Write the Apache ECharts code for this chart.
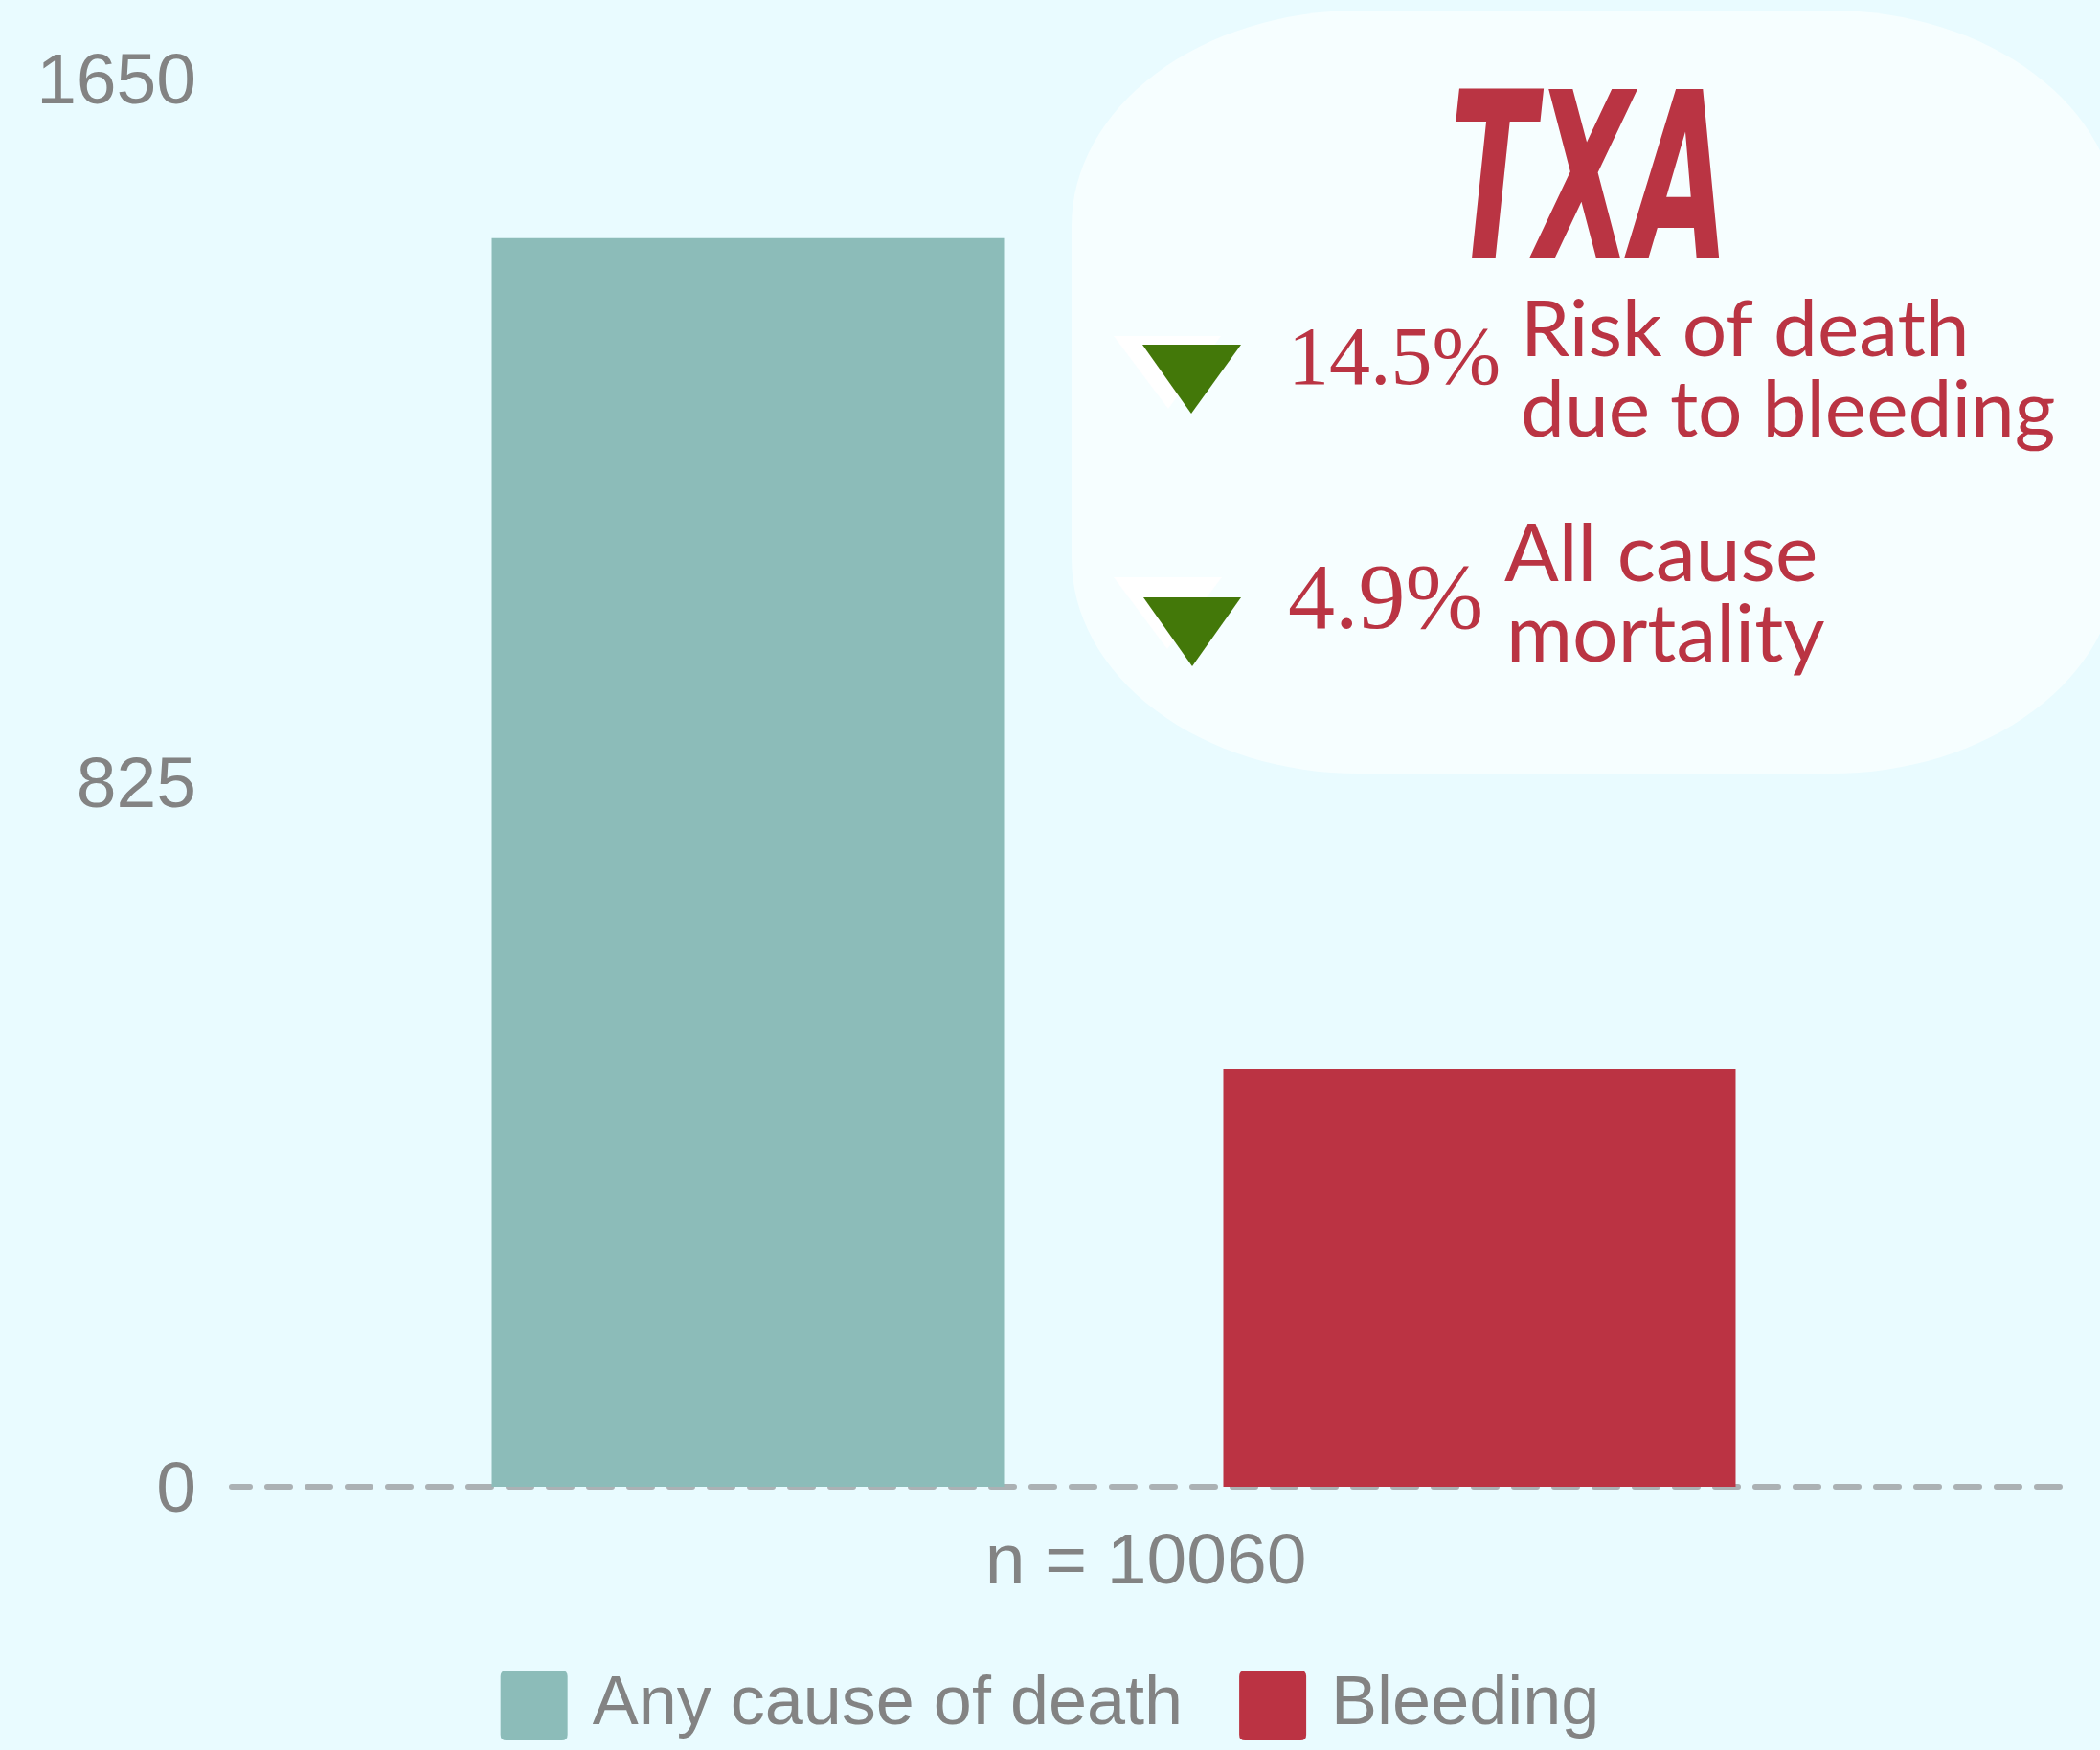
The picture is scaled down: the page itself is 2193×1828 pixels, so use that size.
<!DOCTYPE html>
<html><head><meta charset="utf-8">
<script src="https://cdn.jsdelivr.net/npm/echarts@6/dist/echarts.min.js"></script>
<style>html,body{margin:0;padding:0;background:#e9fbff}#c{width:2193px;height:1828px}</style>
</head><body><div id="c"></div>
<script>
// ---- data ----
const categories = ['n = 10060'];
const seriesNames = ['Any cause of death', 'Bleeding'];
const anyCauseDeaths = [1463];
const bleedingDeaths = [489];
const yMin = 0, yMax = 1650, yInterval = 825;
const headline = 'TXA';
const pctLabels = ['14.5%', '4.9%'];
const rowLabels = [['Risk of death', 'due to bleeding'], ['All cause', 'mortality']];

// ---- styles ----
const TEAL = '#8cbcb9', RED = '#bb3343', GREEN = '#437809', GRAY = '#838383', TXTRED = '#ba3443';

const chart = echarts.init(document.getElementById('c'), null, {renderer: 'canvas'});

const legendIcon = 'path://M6,0 H64 Q70,0 70,6 V67 Q70,73 64,73 H6 Q0,73 0,67 V6 Q0,0 6,0 Z';

const option = {
  backgroundColor: '#e9fbff',
  animation: false,
  grid: [
    {left: 242, right: 42, top: 82, bottom: 275},
    {left: 242, right: 109, top: 82, bottom: 275}
  ],
  xAxis: [
    {type: 'category', gridIndex: 0, data: categories, offset: 3,
     axisLine: {show: true, lineStyle: {color: '#abb1b4', width: 6, type: [24, 18], dashOffset: 5}},
     axisTick: {show: false},
     axisLabel: {color: GRAY, fontSize: 75, fontFamily: 'Liberation Sans, Arial, sans-serif', margin: 40}},
    {type: 'category', gridIndex: 1, data: categories, show: false}
  ],
  yAxis: [
    {type: 'value', gridIndex: 0, min: yMin, max: yMax, interval: yInterval,
     axisLine: {show: false}, axisTick: {show: false}, splitLine: {show: false},
     axisLabel: {color: GRAY, fontSize: 75, fontFamily: 'Liberation Sans, Arial, sans-serif', margin: 37,
       verticalAlign: 'top', lineHeight: 10, formatter: v => String(v)}},
    {type: 'value', gridIndex: 1, min: yMin, max: yMax, interval: yInterval, show: false, splitLine: {show: false}}
  ],
  legend: {
    top: 1740, left: 'center', padding: 5,
    itemWidth: 70, itemHeight: 73, itemGap: 59, icon: legendIcon,
    textStyle: {color: GRAY, fontSize: 72, fontFamily: 'Liberation Sans, Arial, sans-serif', padding: [0, 0, 0, 21]},
    data: seriesNames
  },
  series: [
    {name: seriesNames[0], type: 'bar', xAxisIndex: 1, yAxisIndex: 1, data: anyCauseDeaths,
     barWidth: 535, barGap: '42.8%', itemStyle: {color: TEAL}, z: 3},
    {name: seriesNames[1], type: 'bar', xAxisIndex: 1, yAxisIndex: 1, data: bleedingDeaths,
     barWidth: 535, barGap: '42.8%', itemStyle: {color: RED}, z: 3}
  ],
  graphic: [
    {type: 'rect', z: 10, x: 0, y: 11, scaleY: 0.75,
     shape: {x: 1119, y: 0, width: 1093, height: 1062.7, r: 300}, style: {fill: '#f6feff'}},
    {type: 'text', z: 11, x: 1660, y: 207, scaleX: 0.6, style: {
      text: headline, x: 0, y: 0, textAlign: 'center', textVerticalAlign: 'middle',
      font: 'italic bold 243px "DejaVu Sans Condensed", "DejaVu Sans", sans-serif', fill: TXTRED}},
    // triangles
    {type: 'polygon', z: 11, shape: {points: [[1163, 351], [1275, 351], [1220, 427]]}, style: {fill: '#ffffff'}},
    {type: 'polygon', z: 12, shape: {points: [[1193, 360], [1296, 360], [1244, 432]]}, style: {fill: GREEN}},
    {type: 'polygon', z: 11, shape: {points: [[1163, 603], [1276, 603], [1219, 678]]}, style: {fill: '#ffffff'}},
    {type: 'polygon', z: 12, shape: {points: [[1194, 624], [1296, 624], [1245, 696]]}, style: {fill: GREEN}},
    // percentages
    {type: 'text', z: 12, style: {text: pctLabels[0], x: 1345, y: 378, textVerticalAlign: 'middle',
      font: '86px "Liberation Serif", "DejaVu Serif", serif', fill: TXTRED}},
    {type: 'text', z: 12, style: {text: pctLabels[1], x: 1345, y: 630, textVerticalAlign: 'middle',
      font: '98px "Liberation Serif", "DejaVu Serif", serif', fill: TXTRED}},
    // labels
    {type: 'text', z: 12, style: {text: rowLabels[0][0], x: 1588, y: 346, textVerticalAlign: 'middle',
      font: '82px Lato, sans-serif', fill: TXTRED}},
    {type: 'text', z: 12, style: {text: rowLabels[0][1], x: 1588, y: 430, textVerticalAlign: 'middle',
      font: '82px Lato, sans-serif', fill: TXTRED}},
    {type: 'text', z: 12, style: {text: rowLabels[1][0], x: 1571, y: 580, textVerticalAlign: 'middle',
      font: '84px Lato, sans-serif', fill: TXTRED}},
    {type: 'text', z: 12, style: {text: rowLabels[1][1], x: 1573, y: 664, textVerticalAlign: 'middle',
      font: '84px Lato, sans-serif', fill: TXTRED}}
  ]
};
chart.setOption(option);
</script></body></html>
